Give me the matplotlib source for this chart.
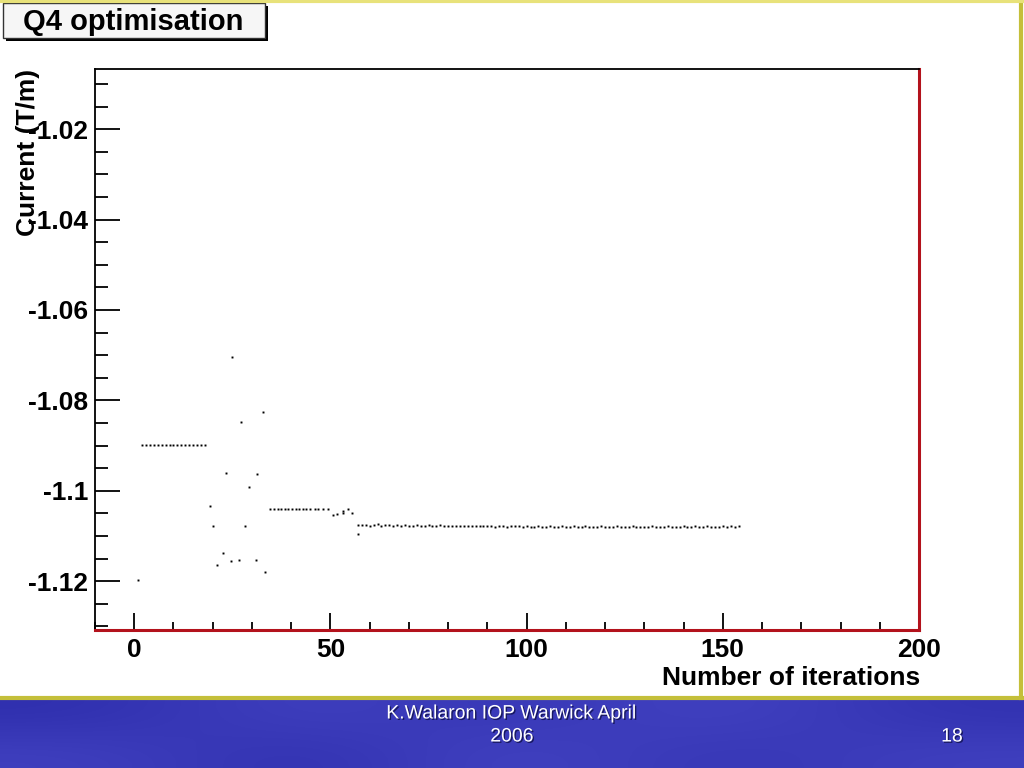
import matplotlib
matplotlib.use("Agg")
import matplotlib.pyplot as plt
from matplotlib.patches import Rectangle
from matplotlib.lines import Line2D
import matplotlib.patheffects as pe

# ---------------- data ----------------
title = "Q4 optimisation"
x_label = "Number of iterations"
y_label = "Current (T/m)"
footer_line1 = "K.Walaron IOP Warwick April"
footer_line2 = "2006"
slide_number = "18"

x_ticks = [0, 50, 100, 150, 200]
x_tick_labels = ["0", "50", "100", "150", "200"]
y_ticks = [-1.12, -1.10, -1.08, -1.06, -1.04, -1.02]
y_tick_labels = ["-1.12", "-1.1", "-1.08", "-1.06", "-1.04", "-1.02"]

# early phase
early_x = [1, 2, 3, 4, 5, 6, 7, 8, 9, 10, 11, 12, 13, 14, 15, 16, 17, 18]
early_y = [-1.1198, -1.0898, -1.0898, -1.0898, -1.0898, -1.0898, -1.0898,
           -1.0898, -1.0898, -1.0898, -1.0898, -1.0898, -1.0898, -1.0898,
           -1.0898, -1.0898, -1.0898, -1.0898]

# exploration phase
explore_x = [19.2, 20.2, 21.0, 22.5, 23.5, 24.6, 24.9, 26.7, 27.1, 28.2,
             29.2, 31.0, 31.4, 32.8, 33.2]
explore_y = [-1.1034, -1.1078, -1.1165, -1.1137, -1.0960, -1.1155, -1.0705,
             -1.1153, -1.0848, -1.1078, -1.0991, -1.1153, -1.0963, -1.0826,
             -1.1180]

# first plateau
plateau1_x = [34.7, 35.7, 36.6, 37.5, 38.4, 39.3, 40.2, 41.2, 42.1, 43.0,
              43.9, 44.8, 46.0, 46.8, 48.2, 49.5, 50.6, 51.8, 53.2, 53.2,
              54.6, 55.4]
plateau1_y = [-1.1041, -1.1041, -1.1041, -1.1041, -1.1041, -1.1041, -1.1041,
              -1.1041, -1.1041, -1.1041, -1.1041, -1.1041, -1.1041, -1.1041,
              -1.1041, -1.1041, -1.1053, -1.1052, -1.1050, -1.1044, -1.1041,
              -1.1050]

# converged phase
conv_x = [57.0, 56.9] + list(range(58, 155))
conv_y = [-1.1095, -1.1075,
          -1.1076, -1.1075, -1.1077, -1.1076, -1.1074, -1.1077, -1.1076, -1.1075, -1.1077, -1.1076,
          -1.1077, -1.1076, -1.1078, -1.1077, -1.1076, -1.1078, -1.1077, -1.1075, -1.1078, -1.1077,
          -1.1076, -1.1078, -1.1077, -1.1078, -1.1077, -1.1079, -1.1078, -1.1077, -1.1079, -1.1078,
          -1.1079, -1.1078, -1.1079, -1.1078, -1.1080, -1.1079, -1.1078, -1.1080, -1.1079, -1.1078,
          -1.1079, -1.1080, -1.1079, -1.1081, -1.1080, -1.1079, -1.1080, -1.1081, -1.1079, -1.1080,
          -1.1080, -1.1079, -1.1081, -1.1080, -1.1079, -1.1081, -1.1080, -1.1078, -1.1080, -1.1081,
          -1.1080, -1.1079, -1.1081, -1.1080, -1.1081, -1.1079, -1.1080, -1.1081, -1.1080, -1.1079,
          -1.1081, -1.1080, -1.1081, -1.1080, -1.1079, -1.1081, -1.1080, -1.1081, -1.1079, -1.1080,
          -1.1081, -1.1080, -1.1078, -1.1081, -1.1080, -1.1079, -1.1081, -1.1080, -1.1079, -1.1080,
          -1.1081, -1.1080, -1.1078, -1.1080, -1.1079, -1.1081, -1.1079]

xs = early_x + explore_x + plateau1_x + conv_x
ys = early_y + explore_y + plateau1_y + conv_y

# ---------------- figure ----------------
W, H = 1024, 768
fig = plt.figure(figsize=(W / 100, H / 100), dpi=100)
fig.patch.set_facecolor("white")

def fx(px):
    return px / W

def fy(py):
    return 1 - py / H

FONT = ["Liberation Sans", "DejaVu Sans"]

# footer (blue band)
footer = fig.add_axes([0, 0, 1, fy(699)])
footer.set_axis_off()
footer.imshow([[0.0, 0.35, 0.1, 0.4, 0.05], [0.3, 0.0, 0.4, 0.1, 0.3]],
              aspect="auto", cmap=matplotlib.colors.LinearSegmentedColormap.from_list(
                  "slide", ["#2f2fae", "#4545c4"]),
              interpolation="bicubic", extent=[0, 1, 0, 1])
footer.set_xlim(0, 1)
footer.set_ylim(0, 1)

# slide borders (olive-yellow)
border_col = "#c4bf3a"
fig.add_artist(Line2D([0, 1], [fy(698), fy(698)], transform=fig.transFigure,
                      color=border_col, lw=3))
fig.add_artist(Line2D([fx(1021), fx(1021)], [fy(698), 1], transform=fig.transFigure,
                      color=border_col, lw=3))
fig.add_artist(Line2D([0, 1], [fy(1), fy(1)], transform=fig.transFigure,
                      color="#e8e27a", lw=3))

# main axes
ax = fig.add_axes([fx(95), fy(630), fx(919) - fx(95), fy(69) - fy(630)])
ax.set_facecolor("white")
ax.plot(xs, ys, linestyle="none", marker="s", markersize=1.4,
        markeredgewidth=0, color="black")

ax.set_xlim(-10, 200)
ax.set_ylim(-1.1308, -1.0067)

ax.set_xticks(x_ticks)
ax.set_xticklabels(x_tick_labels)
ax.set_xticks(list(range(-10, 201, 10)), minor=True)
ax.set_yticks(y_ticks)
ax.set_yticklabels(y_tick_labels)
ax.set_yticks([-1.13 + 0.005 * i for i in range(25)], minor=True)

ax.tick_params(axis="x", which="major", direction="in", length=12, width=1.3,
               pad=6, labelsize=19)
ax.tick_params(axis="x", which="minor", direction="in", length=6, width=1.3)
ax.tick_params(axis="y", which="major", direction="in", length=18, width=1.3,
               pad=5, labelsize=19)
ax.tick_params(axis="y", which="minor", direction="in", length=9, width=1.3)
for lab in ax.get_xticklabels() + ax.get_yticklabels():
    lab.set_fontfamily(FONT)
    lab.set_fontweight("bold")

for s in ["top", "left"]:
    ax.spines[s].set_color("black")
    ax.spines[s].set_linewidth(1.3)
for s in ["right", "bottom"]:
    ax.spines[s].set_color("#b3121c")
    ax.spines[s].set_linewidth(2.2)

# axis titles (the y title overlaps the tick labels, as in the original)
fig.text(fx(920), fy(678), x_label, ha="right", va="center", fontsize=19,
         fontweight="bold", family=FONT)
fig.text(fx(28), fy(152), y_label, ha="center", va="center", rotation=90,
         fontsize=19, fontweight="bold", family=FONT)

# title box with shadow
fig.add_artist(Rectangle((fx(6), fy(41)), fx(268) - fx(6), fy(6) - fy(41),
                         transform=fig.transFigure, facecolor="black",
                         edgecolor="none"))
fig.add_artist(Rectangle((fx(3), fy(38)), fx(265) - fx(3), fy(3) - fy(38),
                         transform=fig.transFigure, facecolor="#f6f6f6",
                         edgecolor="#333333", lw=1))
fig.text(fx(133), fy(22), title, ha="center", va="center", fontsize=21,
         fontweight="bold", family=FONT)

# footer texts
shadow = [pe.withSimplePatchShadow(offset=(1, -1), shadow_rgbFace="#10104a", alpha=0.8)]
fig.text(fx(512), fy(714), footer_line1, ha="center", va="center", fontsize=14,
         color="white", family=FONT, path_effects=shadow)
fig.text(fx(512), fy(737), footer_line2, ha="center", va="center", fontsize=14,
         color="white", family=FONT, path_effects=shadow)
fig.text(fx(952), fy(737), slide_number, ha="center", va="center", fontsize=14,
         color="white", family=FONT, path_effects=shadow)

fig.savefig("out.png", dpi=100, facecolor=fig.get_facecolor())
